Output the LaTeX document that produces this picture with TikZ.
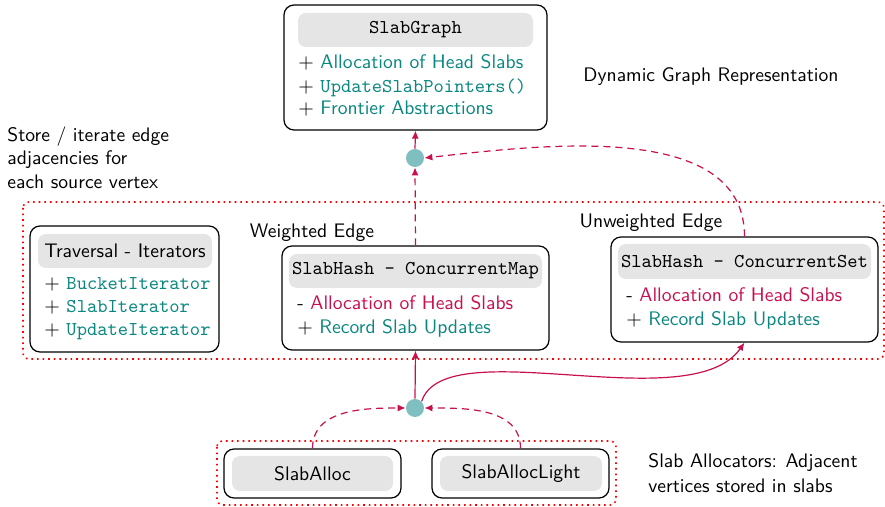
\documentclass[tikz,border=0pt]{standalone}
\usepackage{fontspec}
\renewcommand\familydefault{\sfdefault}
\usetikzlibrary{arrows.meta}
\definecolor{crim}{RGB}{200,16,80}
\definecolor{tealc}{RGB}{10,135,128}
\definecolor{dotc}{RGB}{127,191,191}
\begin{document}
\begin{tikzpicture}[x=0.5pt,y=-0.5pt,
  font=\fontsize{9.8pt}{11.8pt}\selectfont,
  box/.style={draw=black, line width=0.6pt, rounded corners=5pt, inner sep=0pt},
  hdr/.style={fill=gray!20, rounded corners=4pt, inner sep=0pt},
  item/.style={anchor=base west, inner sep=0pt},
  lbl/.style={inner sep=0pt},
  junction/.style={circle, fill=dotc, inner sep=0pt, minimum size=9pt},
  grp/.style={draw=red, dotted, line width=0.8pt, rounded corners=3pt},
  conn/.style={draw=crim, line width=0.6pt, -{Latex[length=4pt,width=3.5pt]}},
  dconn/.style={conn, dash pattern=on 3.5pt off 2.5pt}
]
\useasboundingbox (0,0) rectangle (885,507);

% dotted groups
\draw[grp] (23,202) rectangle (884,359);
\draw[grp] (217,441) rectangle (616,505);

% SlabGraph
\node[box, minimum width=131.5pt, minimum height=62.5pt] (g) at (415.5,67.5) {};
\node[hdr, minimum width=117.5pt, minimum height=17pt] (gh) at (415.5,30) {\ttfamily SlabGraph};
\node[item] (g1) at (298,69) {$+$ \textcolor{tealc}{Allocation of Head Slabs}};
\node[item] (g2) at (298,93) {$+$ \textcolor{tealc}{\ttfamily UpdateSlabPointers()}};
\node[item] (g3) at (298,115) {$+$ \textcolor{tealc}{Frontier Abstractions}};

% Traversal
\node[box, minimum width=94.5pt, minimum height=63pt] (tr) at (124.5,289) {};
\node[hdr, minimum width=87pt, minimum height=17pt] (trh) at (125,251) {Traversal - Iterators};
\node[item] (t1) at (44,290) {$+$ \textcolor{tealc}{\ttfamily BucketIterator}};
\node[item] (t2) at (44,313) {$+$ \textcolor{tealc}{\ttfamily SlabIterator}};
\node[item] (t3) at (44,336) {$+$ \textcolor{tealc}{\ttfamily UpdateIterator}};

% ConcurrentMap
\node[box, minimum width=133.5pt, minimum height=52pt] (map) at (415.5,298) {};
\node[hdr, minimum width=126.5pt, minimum height=17pt] (maph) at (415.5,271) {\ttfamily SlabHash - ConcurrentMap};
\node[item] (m1) at (297,310) {- \textcolor{crim}{Allocation of Head Slabs}};
\node[item] (m2) at (297,334) {$+$ \textcolor{tealc}{Record Slab Updates}};

% ConcurrentSet
\node[box, minimum width=133.5pt, minimum height=52.5pt] (set) at (744.5,289.5) {};
\node[hdr, minimum width=126.5pt, minimum height=17.5pt] (seth) at (744.5,261.5) {\ttfamily SlabHash - ConcurrentSet};
\node[item] (s1) at (626,302) {- \textcolor{crim}{Allocation of Head Slabs}};
\node[item] (s2) at (626,326) {$+$ \textcolor{tealc}{Record Slab Updates}};

% Allocators
\node[box, minimum width=88.5pt, minimum height=24.5pt] (sa) at (312.5,473.5) {};
\node[hdr, minimum width=80.5pt, minimum height=17.5pt] (sah) at (312.5,473.5) {SlabAlloc};
\node[box, minimum width=88.5pt, minimum height=24.5pt] (sl) at (520.5,473.5) {};
\node[hdr, minimum width=81pt, minimum height=17.5pt] (slh) at (521,473.5) {SlabAllocLight};

% junctions
\node[junction] (dt) at (415,158) {};
\node[junction] (db) at (415,408) {};

% labels
\node[lbl] (lw) at (312,233) {Weighted Edge};
\node[lbl] (lu) at (651,223) {Unweighted Edge};
\node[lbl] (ld) at (711,77) {Dynamic Graph Representation};
\node[lbl, anchor=north west, align=left, font=\fontsize{9.8pt}{11.75pt}\selectfont] (ls) at (7,126) {Store / iterate edge\\adjacencies for\\each source vertex};
\node[lbl, anchor=north west, align=left, font=\fontsize{9.8pt}{12.4pt}\selectfont] (la) at (648,453) {Slab Allocators: Adjacent\\vertices stored in slabs};

% connectors
\draw[dconn] (map.north) -- (dt.south);
\draw[conn] (dt.north) -- (g.south);
\draw[dconn] (set.north) .. controls +(0,-117) and +(116,-13) .. (dt.east);
\draw[conn] (db.north) -- (map.south);
\draw[conn] (db.north east) .. controls (445,330) and (690,420) .. (set.south);
\draw[dconn] (sa.north) to[out=90,in=180] (db.west);
\draw[dconn] (sl.north) to[out=90,in=0] (db.east);
\end{tikzpicture}
\end{document}
